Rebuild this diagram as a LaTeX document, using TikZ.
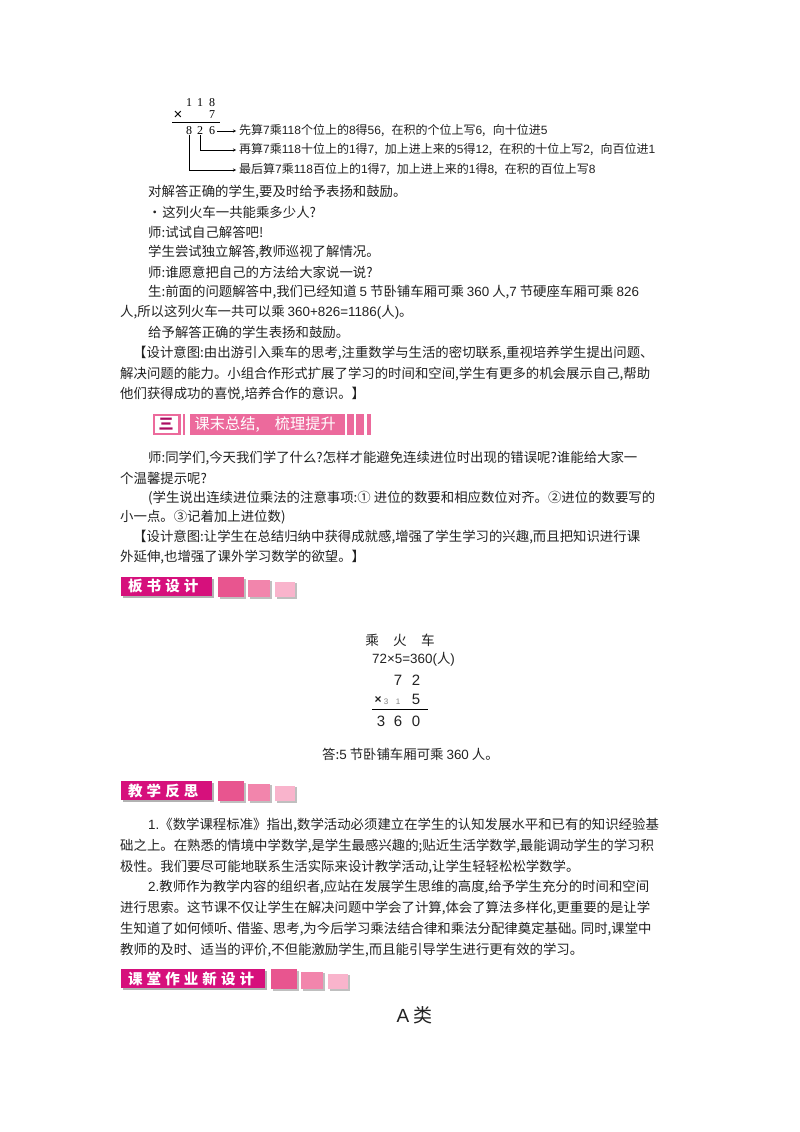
\documentclass[tikz,border=0pt]{standalone}
\usepackage{fontspec}
\setmainfont{Noto Sans CJK SC}
\newfontfamily\latinserif{Liberation Serif}
\newfontfamily\latinsans{Liberation Sans}
\newcommand{\ar}[1]{{\latinsans #1}}
\newcommand{\tp}{\hspace{-.3em}}
\definecolor{magentabar}{HTML}{D6107C}
\definecolor{pinkbar}{HTML}{EC6A9C}
\definecolor{squareA}{HTML}{E8558F}
\definecolor{squareB}{HTML}{F285AC}
\definecolor{squareC}{HTML}{F9B4CC}
\definecolor{inktext}{HTML}{222222}
\tikzset{
  textline/.style={anchor=west,inner sep=0pt,font=\fontsize{13.4}{14}\selectfont,text=inktext},
  noteline/.style={anchor=west,inner sep=0pt,font=\fontsize{12}{12}\selectfont,text=inktext},
  digit/.style={inner sep=0pt,font=\latinserif\fontsize{12}{12}\selectfont},
  sumdigit/.style={inner sep=0pt,font=\latinsans\fontsize{15}{15}\selectfont,text=inktext},
  barlabel/.style={inner sep=0pt,anchor=west,text=white,font=\bfseries\fontsize{14.5}{15}\selectfont\addfontfeature{LetterSpace=28}},
}
\begin{document}
\begin{tikzpicture}[x=1pt,y=-1pt]
  \useasboundingbox[fill=white] (0,0) rectangle (800,1132);

  % Multiplication in the first lines
  \node[digit] (T-1) at (189,103) {1};
  \node[digit] (T-2) at (200,103) {1};
  \node[digit] (T-3) at (212,103) {8};
  \node[digit,font=\latinsans\fontsize{15}{15}\selectfont] (T-x) at (178,115) {×};
  \node[digit] (T-7) at (212,115) {7};
  \draw[line width=.7pt] (172,122) -- (220,122);
  \node[digit] (P-1) at (189,131) {8};
  \node[digit] (P-2) at (200,131) {2};
  \node[digit] (P-3) at (212,131) {6};

  % Notes beside the product
  \node[noteline] (N-1) at (239,131) {先算\ar{7}乘\ar{118}个位上的\ar{8}得\ar{56},\hspace{.6em}在积的个位上写\ar{6},\hspace{.6em}向十位进\ar{5}};
  \node[noteline] (N-2) at (239,150) {再算\ar{7}乘\ar{118}十位上的\ar{1}得\ar{7},\hspace{.6em}加上进上来的\ar{5}得\ar{12},\hspace{.6em}在积的十位上写\ar{2},\hspace{.6em}向百位进\ar{1}};
  \node[noteline] (N-3) at (239,170) {最后算\ar{7}乘\ar{118}百位上的\ar{1}得\ar{7},\hspace{.6em}加上进上来的\ar{1}得\ar{8},\hspace{.6em}在积的百位上写\ar{8}};
  \draw[-stealth,shorten >=3pt] (P-3.east) ++(2,0) -- (N-1.west);
  \draw[-stealth,shorten >=3pt] (P-2.south) |- (N-2.west);
  \draw[-stealth,shorten >=3pt] (P-1.south) |- (N-3.west);

  % First block of text
  \node[textline] (L-1) at (148,192.5) {对解答正确的学生,要及时给予表扬和鼓励。};
  \node[textline] (L-2) at (148,212) {•\hspace{.05em}这列火车一共能乘多少人?};
  \node[textline] (L-3) at (148,232) {师:试试自己解答吧!};
  \node[textline] (L-4) at (148,252) {学生尝试独立解答,教师巡视了解情况。};
  \node[textline] (L-5) at (148,272) {师:谁愿意把自己的方法给大家说一说?};
  \node[textline] (L-6) at (148,292) {生:前面的问题解答中,我们已经知道 \ar{5} 节卧铺车厢可乘 \ar{360} 人,\ar{7} 节硬座车厢可乘 \ar{826}};
  \node[textline] (L-7) at (120,312) {人,所以这列火车一共可以乘 \ar{360+826=1186(}人\ar{)}。};
  \node[textline] (L-8) at (148,332.5) {给予解答正确的学生表扬和鼓励。};
  \node[textline] (L-9) at (133,353) {【设计意图:由出游引入乘车的思考,注重数学与生活的密切联系,重视培养学生提出问题、};
  \node[textline] (L-10) at (120,374) {解决问题的能力。小组合作形式扩展了学习的时间和空间,学生有更多的机会展示自己,帮助};
  \node[textline] (L-11) at (120,394.5) {他们获得成功的喜悦,培养合作的意识。】};

  % Section banner three
  \fill[pinkbar] (153,414) rectangle (371,435);
  \fill[white] (155,416) rectangle (178,433);
  \fill[white] (181,414) rectangle (182.5,435);
  \fill[white] (185,414) rectangle (190,435);
  \fill[white] (345,414) rectangle (347,435);
  \fill[white] (354,414) rectangle (356,435);
  \fill[white] (364,414) rectangle (367,435);
  \node[inner sep=0pt,text=magentabar!80!black,font=\bfseries\fontsize{15}{15}\selectfont] (B-3) at (166,424.5) {三};
  \node[inner sep=0pt,anchor=west,text=white,font=\fontsize{15.2}{15}\selectfont] (B-3t) at (194.5,424.5) {课末总结,\hspace{1em}梳理提升};

  % Second block of text
  \node[textline] (M-1) at (148,458) {师:同学们,今天我们学了什么?怎样才能避免连续进位时出现的错误呢?谁能给大家一};
  \node[textline] (M-2) at (120,478) {个温馨提示呢?};
  \node[textline] (M-3) at (148,498) {(学生说出连续进位乘法的注意事项:① 进位的数要和相应数位对齐。②进位的数要写的};
  \node[textline] (M-4) at (120,517.5) {小一点。③记着加上进位数)};
  \node[textline] (M-5) at (133,537.5) {【设计意图:让学生在总结归纳中获得成就感,增强了学生学习的兴趣,而且把知识进行课};
  \node[textline] (M-6) at (120,557.5) {外延伸,也增强了课外学习数学的欲望。】};

  % Title bars with three squares
  \foreach \y/\w/\name in {577/212/板书设计,781/212/教学反思,969/265/课堂作业新设计}{
    \fill[gray!60] (123,\y+2) rectangle (\w+2,\y+21);
    \fill[magentabar] (121,\y) rectangle (\w,\y+19);
    \node[barlabel] at (128,\y+9.5) {\name};
    \fill[gray!50] (\w+8,\y+2) rectangle (\w+34,\y+22);
    \fill[squareA] (\w+6,\y) rectangle (\w+32,\y+20);
    \fill[gray!50] (\w+38,\y+4) rectangle (\w+60,\y+22);
    \fill[squareB] (\w+36,\y+3) rectangle (\w+58,\y+20);
    \fill[gray!50] (\w+65,\y+6) rectangle (\w+85,\y+22);
    \fill[squareC] (\w+63,\y+5) rectangle (\w+83,\y+20);
  }

  % Working on the board
  \node[inner sep=0pt,font=\fontsize{13.6}{14}\selectfont,text=inktext] (H-1) at (400,640) {乘\hspace{1.05em}火\hspace{1.05em}车};
  \node[anchor=west,inner sep=0pt,font=\fontsize{13.4}{14}\selectfont,text=inktext] (H-2) at (372,659.5) {\ar{72×5=360(}人\ar{)}};
  \node[sumdigit] (S-1) at (398,680) {7};
  \node[sumdigit] (S-2) at (416,680) {2};
  \node[sumdigit,font=\latinsans\bfseries\fontsize{12}{12}\selectfont] (S-x) at (378,700) {×};
  \node[sumdigit,font=\latinsans\fontsize{8}{8}\selectfont,text=gray] (S-c1) at (386,702) {3};
  \node[sumdigit,font=\latinsans\fontsize{8}{8}\selectfont,text=gray] (S-c2) at (398,702) {1};
  \node[sumdigit] (S-3) at (416,699.5) {5};
  \draw[line width=.7pt] (372,709) -- (428,709);
  \node[sumdigit] (R-1) at (381,721) {3};
  \node[sumdigit] (R-2) at (398,721) {6};
  \node[sumdigit] (R-3) at (416,721) {0};
  \node[textline] (H-3) at (322,754.5) {答:\ar{5} 节卧铺车厢可乘 \ar{360} 人。};

  % Third block of text
  \node[textline] (K-1) at (148,825) {\ar{1.}《数学课程标准》指出,数学活动必须建立在学生的认知发展水平和已有的知识经验基};
  \node[textline] (K-2) at (120,846) {础之上。在熟悉的情境中学数学,是学生最感兴趣的;贴近生活学数学,最能调动学生的学习积};
  \node[textline] (K-3) at (120,867) {极性。我们要尽可能地联系生活实际来设计教学活动,让学生轻轻松松学数学。};
  \node[textline] (K-4) at (148,887) {\ar{2.}教师作为教学内容的组织者,应站在发展学生思维的高度,给予学生充分的时间和空间};
  \node[textline] (K-5) at (120,908) {进行思索。这节课不仅让学生在解决问题中学会了计算,体会了算法多样化,更重要的是让学};
  \node[textline] (K-6) at (120,929) {生知道了如何倾听、\tp 借鉴、\tp 思考,为今后学习乘法结合律和乘法分配律奠定基础。\tp 同时,课堂中};
  \node[textline] (K-7) at (120,950) {教师的及时、适当的评价,不但能激励学生,而且能引导学生进行更有效的学习。};

  \node[inner sep=0pt,font=\fontsize{19}{19}\selectfont,text=inktext] (A-1) at (414.5,1015) {\ar{A} 类};
\end{tikzpicture}
\end{document}
